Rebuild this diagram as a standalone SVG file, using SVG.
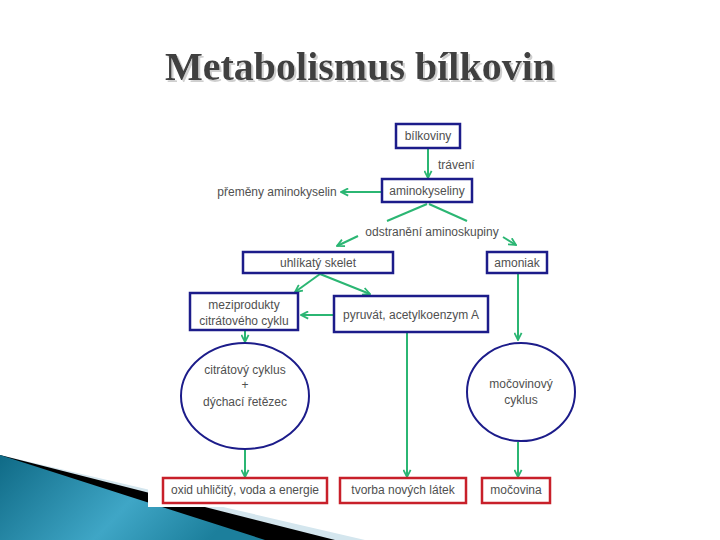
<svg xmlns="http://www.w3.org/2000/svg" width="720" height="540" viewBox="0 0 720 540">
<defs>
<linearGradient id="teal" x1="0" y1="0" x2="1" y2="0.3">
<stop offset="0" stop-color="#0f6a86"/>
<stop offset="0.6" stop-color="#3fa6c6"/>
<stop offset="1" stop-color="#1c7f9c"/>
</linearGradient>
<filter id="sh" x="-5%" y="-20%" width="110%" height="140%">
<feOffset in="SourceAlpha" dx="2" dy="2" result="o"/>
<feFlood flood-color="#cfcfcf"/>
<feComposite in2="o" operator="in" result="s"/>
<feMerge><feMergeNode in="s"/><feMergeNode in="SourceGraphic"/></feMerge>
</filter>
<marker id="ah" viewBox="0 0 10 10" refX="9" refY="5" markerWidth="9" markerHeight="9" markerUnits="userSpaceOnUse" orient="auto">
<path d="M1,1 L9,5 L1,9" fill="none" stroke="#2bb673" stroke-width="2"/>
</marker>
<style>
.t{font-family:"Liberation Sans",Arial,sans-serif;font-size:12px;fill:#505050;text-anchor:middle}
.bb{fill:#fff;stroke:#1c1c8a;stroke-width:2.5}
.rb{fill:#fff;stroke:#c8202a;stroke-width:2.5}
.el{fill:#fff;stroke:#1c1c8a;stroke-width:2}
.c{fill:none;stroke:#2bb673;stroke-width:2}
.ca{fill:none;stroke:#2bb673;stroke-width:2;marker-end:url(#ah)}
</style>
</defs>
<rect width="720" height="540" fill="#fff"/>
<g id="decoration">
<polygon points="0,455 365,540 0,540" fill="#d4e6ee"/>
<polygon points="0,455 335,540 0,540" fill="#000"/>
<polygon points="0,455 265,540 0,540" fill="url(#teal)"/>
<rect x="148" y="110" width="440" height="397" fill="#fff"/>
</g>
<g id="title">
<text x="360" y="80" font-family="'Liberation Serif','Times New Roman',serif" font-weight="bold" font-size="40" fill="#404040" text-anchor="middle" filter="url(#sh)">Metabolismus bílkovin</text>
</g>
<g id="connectors">
<line class="ca" x1="428" y1="149" x2="428" y2="178"/>
<line class="ca" x1="381" y1="192" x2="341" y2="192"/>
<line class="c" x1="427" y1="204" x2="387" y2="221"/>
<line class="c" x1="429" y1="204" x2="467" y2="221"/>
<line class="ca" x1="358" y1="236" x2="337" y2="246"/>
<line class="ca" x1="503" y1="237" x2="516" y2="245"/>
<line class="ca" x1="320" y1="274" x2="295" y2="292"/>
<line class="ca" x1="320" y1="274" x2="370" y2="294"/>
<line class="ca" x1="333" y1="315" x2="301" y2="315"/>
<line class="ca" x1="518" y1="274" x2="518" y2="340"/>
<line class="ca" x1="245" y1="331" x2="245" y2="342"/>
<line class="ca" x1="245" y1="450" x2="245" y2="477"/>
<line class="ca" x1="407" y1="333" x2="407" y2="477"/>
<line class="ca" x1="518" y1="442" x2="518" y2="477"/>
</g>
<g id="bilkoviny"><rect class="bb" x="396" y="124" width="64" height="24"/><text class="t" x="428" y="140">bílkoviny</text></g>
<g id="traveni"><text class="t" x="438" y="169" style="text-anchor:start">trávení</text></g>
<g id="aminokyseliny"><rect class="bb" x="382" y="179" width="90" height="23"/><text class="t" x="427" y="195">aminokyseliny</text></g>
<g id="premeny"><text class="t" x="277" y="196">přeměny aminokyselin</text></g>
<g id="odstraneni"><text class="t" x="432" y="236">odstranění aminoskupiny</text></g>
<g id="skelet"><rect class="bb" x="243" y="252" width="150" height="21"/><text class="t" x="318" y="267">uhlíkatý skelet</text></g>
<g id="amoniak"><rect class="bb" x="487" y="252" width="60" height="21"/><text class="t" x="517" y="267">amoniak</text></g>
<g id="meziprodukty"><rect class="bb" x="190" y="293" width="108" height="37"/><text class="t" x="244" y="309">meziprodukty</text><text class="t" x="244" y="325">citrátového cyklu</text></g>
<g id="pyruvat"><rect class="bb" x="334" y="296" width="154" height="36"/><text class="t" x="411" y="319">pyruvát, acetylkoenzym A</text></g>
<g id="citratovy"><ellipse class="el" cx="245" cy="396" rx="64" ry="53"/><text class="t" x="245" y="374">citrátový cyklus</text><text class="t" x="245" y="389">+</text><text class="t" x="245" y="406">dýchací řetězec</text></g>
<g id="mocovinovy"><ellipse class="el" cx="521" cy="392" rx="54" ry="49"/><text class="t" x="521" y="388">močovinový</text><text class="t" x="521" y="404">cyklus</text></g>
<g id="oxid"><rect class="rb" x="163" y="478" width="164" height="25"/><text class="t" x="245" y="494">oxid uhličitý, voda a energie</text></g>
<g id="tvorba"><rect class="rb" x="340" y="478" width="126" height="25"/><text class="t" x="403" y="494">tvorba nových látek</text></g>
<g id="mocovina"><rect class="rb" x="482" y="478" width="68" height="25"/><text class="t" x="516" y="494">močovina</text></g>
</svg>
